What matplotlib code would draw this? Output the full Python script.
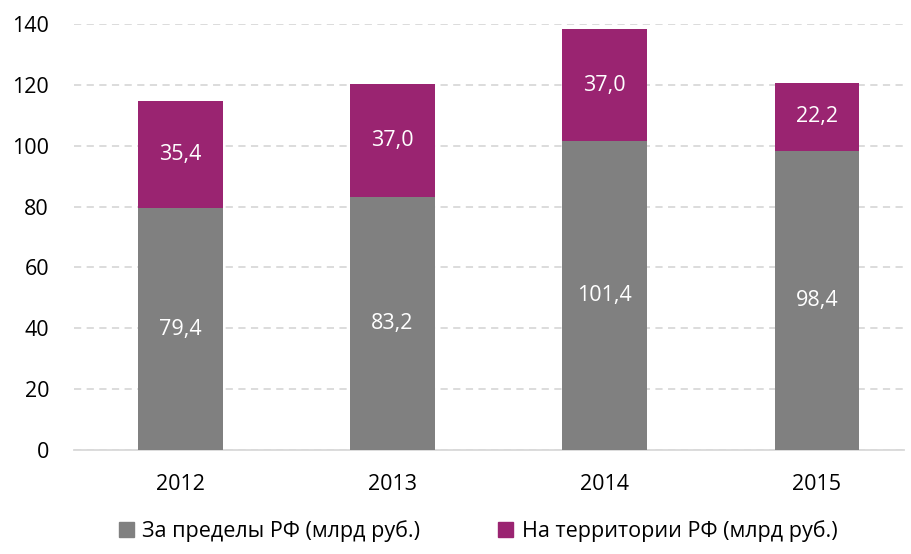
import matplotlib.pyplot as plt
from matplotlib.patches import Patch

years = ['2012', '2013', '2014', '2015']
abroad = [79.4, 83.2, 101.4, 98.4]
domestic = [35.4, 37.0, 37.0, 22.2]
labels = ['За пределы РФ (млрд руб.)', 'На территории РФ (млрд руб.)']

gray = '#808080'
magenta = '#9a2471'

plt.rcParams['font.family'] = ['Open Sans', 'DejaVu Sans']

fig = plt.figure(figsize=(9.11, 5.54), dpi=100)
ax = fig.add_axes([74 / 911, 104 / 554, 830 / 911, 426 / 554])

x = list(range(len(years)))
ax.bar(x, abroad, width=0.4, color=gray, zorder=3)
ax.bar(x, domestic, width=0.4, bottom=abroad, color=magenta, zorder=3)

for i in x:
    ax.text(i, abroad[i] / 2, f'{abroad[i]:.1f}'.replace('.', ','),
            ha='center', va='center', color='white', fontsize=15.5, zorder=4)
    ax.text(i, abroad[i] + domestic[i] / 2, f'{domestic[i]:.1f}'.replace('.', ','),
            ha='center', va='center', color='white', fontsize=15.5, zorder=4)

ax.set_xlim(-0.5, 3.41)
ax.set_ylim(0, 140)
ax.set_yticks(range(0, 141, 20))
ax.set_xticks(x)
ax.set_xticklabels(years)
ax.yaxis.grid(True, color='#d9d9d9', linestyle=(0, (4, 3)), linewidth=1.3, zorder=0)
for s in ['top', 'right', 'left']:
    ax.spines[s].set_visible(False)
ax.spines['bottom'].set_color('#d9d9d9')
ax.spines['bottom'].set_linewidth(1.3)
ax.tick_params(axis='y', length=0, pad=18, labelsize=15.5, colors='#000000')
ax.tick_params(axis='x', length=0, pad=17, labelsize=15.5, colors='#000000')

handles = [Patch(color=gray), Patch(color=magenta)]
fig.legend(handles, labels, loc='center', bbox_to_anchor=(478 / 911, 23 / 554),
           ncol=2, frameon=False, fontsize=15.5, handlelength=0.7, handleheight=0.7,
           handletextpad=0.4, columnspacing=3.6)

fig.savefig('out.png', dpi=100)
